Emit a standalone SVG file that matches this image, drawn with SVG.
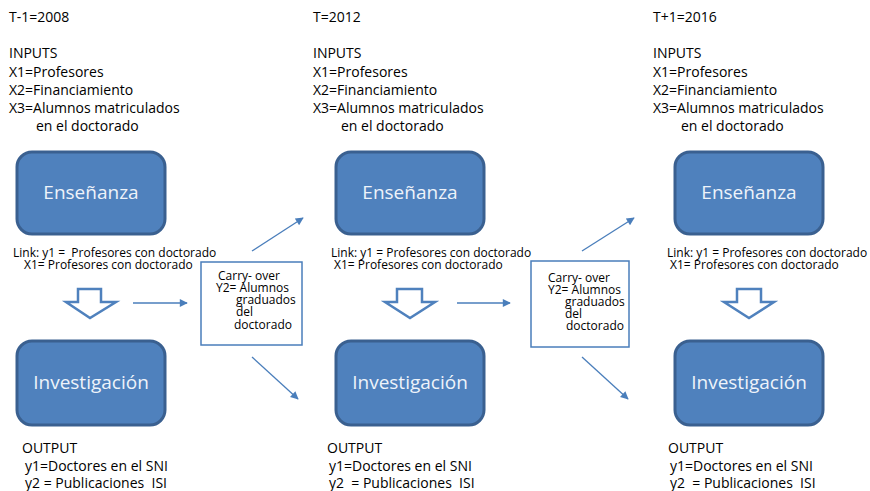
<svg xmlns="http://www.w3.org/2000/svg" width="870" height="491" viewBox="0 0 870 491">
<defs>
<marker id="ah" viewBox="0 0 10 10" refX="9" refY="5" markerWidth="10" markerHeight="8" markerUnits="userSpaceOnUse" orient="auto">
<path d="M0,0 L10,5 L0,10 Z" fill="#4a7ebb"/>
</marker>
</defs>
<style>
text{font-family:"Open Sans","Liberation Sans",sans-serif;fill:#000;white-space:pre}
.hd{font-size:14px}
.lk{font-size:12px}
.co{font-size:12px}
.bx{fill:#4f81bd;stroke:#3a6090;stroke-width:3}
.bt{font-size:19px;fill:#eef3fa;text-anchor:middle}
.ha{fill:#fff;stroke:#4f81bd;stroke-width:2.5;stroke-linejoin:miter}
.cb{fill:#fff;stroke:#4a7ebb;stroke-width:1.5}
.cn{stroke:#4a7ebb;stroke-width:1.3;fill:none;marker-end:url(#ah)}
</style>

<g id="col1-inputs">
<text x="9" y="22" class="hd">T-1=2008</text>
<text x="9" y="58" class="hd">INPUTS</text>
<text x="9" y="77" class="hd">X1=Profesores</text>
<text x="9" y="95" class="hd">X2=Financiamiento</text>
<text x="9" y="113" class="hd">X3=Alumnos matriculados</text>
<text x="36" y="131" class="hd">en el doctorado</text>
</g>
<g id="col2-inputs">
<text x="313" y="22" class="hd">T=2012</text>
<text x="313" y="58" class="hd">INPUTS</text>
<text x="313" y="77" class="hd">X1=Profesores</text>
<text x="313" y="95" class="hd">X2=Financiamiento</text>
<text x="313" y="113" class="hd">X3=Alumnos matriculados</text>
<text x="341" y="131" class="hd">en el doctorado</text>
</g>
<g id="col3-inputs">
<text x="653" y="22" class="hd">T+1=2016</text>
<text x="653" y="58" class="hd">INPUTS</text>
<text x="653" y="77" class="hd">X1=Profesores</text>
<text x="653" y="95" class="hd">X2=Financiamiento</text>
<text x="653" y="113" class="hd">X3=Alumnos matriculados</text>
<text x="681" y="131" class="hd">en el doctorado</text>
</g>

<g id="ens1"><rect class="bx" x="17" y="152" width="148" height="82" rx="15"/><text class="bt" x="91" y="199">Enseñanza</text></g>
<g id="ens2"><rect class="bx" x="336" y="152" width="148" height="82" rx="15"/><text class="bt" x="410" y="199">Enseñanza</text></g>
<g id="ens3"><rect class="bx" x="675" y="152" width="148" height="82" rx="15"/><text class="bt" x="749" y="199">Enseñanza</text></g>

<g id="inv1"><rect class="bx" x="17" y="341" width="148" height="84" rx="15"/><text class="bt" x="91" y="389">Investigación</text></g>
<g id="inv2"><rect class="bx" x="336" y="341" width="148" height="84" rx="15"/><text class="bt" x="410" y="389">Investigación</text></g>
<g id="inv3"><rect class="bx" x="675" y="341" width="148" height="84" rx="15"/><text class="bt" x="749" y="389">Investigación</text></g>

<g id="link1"><text class="lk" x="13" y="257">Link: y1 =  Profesores con doctorado</text><text class="lk" x="24" y="269">X1= Profesores con doctorado</text></g>
<g id="link2"><text class="lk" x="331" y="257">Link: y1 = Profesores con doctorado</text><text class="lk" x="334" y="269">X1= Profesores con doctorado</text></g>
<g id="link3"><text class="lk" x="667" y="257">Link: y1 = Profesores con doctorado</text><text class="lk" x="670" y="269">X1= Profesores con doctorado</text></g>

<g id="down1"><polygon class="ha" points="78,289 101,289 101,302 116,302 90,318 66,302 78,302"/></g>
<g id="down2"><polygon class="ha" points="397,289 422,289 422,302 435,302 410,318 385,302 397,302"/></g>
<g id="down3"><polygon class="ha" points="737,289 761,289 761,302 774,302 749,318 724,302 737,302"/></g>

<g id="carry1"><rect class="cb" x="201" y="262" width="101" height="83"/>
<text class="co" x="218" y="280">Carry- over</text>
<text class="co" x="216" y="292">Y2= Alumnos</text>
<text class="co" x="236" y="304">graduados</text>
<text class="co" x="236" y="316">del</text>
<text class="co" x="234" y="329">doctorado</text>
</g>
<g id="carry2"><rect class="cb" x="531" y="261" width="98" height="86"/>
<text class="co" x="548" y="282">Carry- over</text>
<text class="co" x="548" y="294">Y2= Alumnos</text>
<text class="co" x="565" y="306">graduados</text>
<text class="co" x="565" y="318">del</text>
<text class="co" x="566" y="330">doctorado</text>
</g>

<g id="connectors">
<line class="cn" x1="133" y1="303" x2="187" y2="303"/>
<line class="cn" x1="252" y1="251" x2="303" y2="218"/>
<line class="cn" x1="252" y1="357" x2="298" y2="399"/>
<line class="cn" x1="457" y1="303" x2="510" y2="303"/>
<line class="cn" x1="582" y1="251" x2="634" y2="218"/>
<line class="cn" x1="582" y1="357" x2="628" y2="399"/>
</g>

<g id="out1"><text class="hd" x="22" y="453">OUTPUT</text><text class="hd" x="25" y="471">y1=Doctores en el SNI</text><text class="hd" x="25" y="488">y2 = Publicaciones  ISI</text></g>
<g id="out2"><text class="hd" x="327" y="453">OUTPUT</text><text class="hd" x="329" y="471">y1=Doctores en el SNI</text><text class="hd" x="329" y="488">y2  = Publicaciones  ISI</text></g>
<g id="out3"><text class="hd" x="668" y="453">OUTPUT</text><text class="hd" x="670" y="471">y1=Doctores en el SNI</text><text class="hd" x="670" y="488">y2  = Publicaciones  ISI</text></g>
</svg>
